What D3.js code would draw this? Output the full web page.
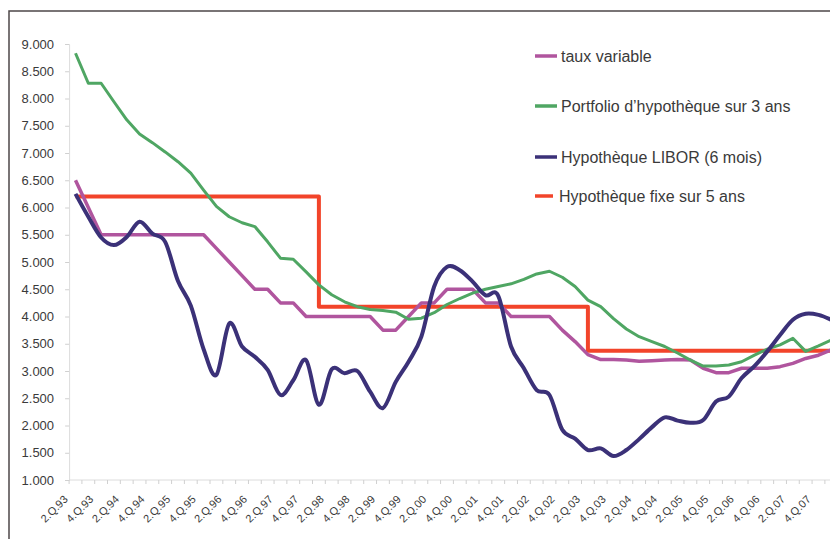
<!DOCTYPE html>
<html><head><meta charset="utf-8">
<script src="https://cdn.jsdelivr.net/npm/d3@7"></script>
<style>body{margin:0;background:#fff}svg{display:block}text{font-family:"Liberation Sans",Arial,sans-serif}</style>
</head><body><svg id="c" width="830" height="539"></svg>
<script>
const categories = ["2.Q.93","3.Q.93","4.Q.93","1.Q.94","2.Q.94","3.Q.94","4.Q.94","1.Q.95","2.Q.95","3.Q.95","4.Q.95","1.Q.96","2.Q.96","3.Q.96","4.Q.96","1.Q.97","2.Q.97","3.Q.97","4.Q.97","1.Q.98","2.Q.98","3.Q.98","4.Q.98","1.Q.99","2.Q.99","3.Q.99","4.Q.99","1.Q.00","2.Q.00","3.Q.00","4.Q.00","1.Q.01","2.Q.01","3.Q.01","4.Q.01","1.Q.02","2.Q.02","3.Q.02","4.Q.02","1.Q.03","2.Q.03","3.Q.03","4.Q.03","1.Q.04","2.Q.04","3.Q.04","4.Q.04","1.Q.05","2.Q.05","3.Q.05","4.Q.05","1.Q.06","2.Q.06","3.Q.06","4.Q.06","1.Q.07","2.Q.07","3.Q.07","4.Q.07","1.Q.08"];
const xTickLabels = ["2.Q.93","4.Q.93","2.Q.94","4.Q.94","2.Q.95","4.Q.95","2.Q.96","4.Q.96","2.Q.97","4.Q.97","2.Q.98","4.Q.98","2.Q.99","4.Q.99","2.Q.00","4.Q.00","2.Q.01","4.Q.01","2.Q.02","4.Q.02","2.Q.03","4.Q.03","2.Q.04","4.Q.04","2.Q.05","4.Q.05","2.Q.06","4.Q.06","2.Q.07","4.Q.07"];
const yTicks = [1,1.5,2,2.5,3,3.5,4,4.5,5,5.5,6,6.5,7,7.5,8,8.5,9];

const tauxVariable = [6.5,6.0,5.5,5.5,5.5,5.5,5.5,5.5,5.5,5.5,5.5,5.25,5.0,4.75,4.5,4.5,4.25,4.25,4.0,4.0,
  4.0,4.0,4.0,4.0,3.75,3.75,4.0,4.25,4.25,4.5,4.5,4.5,4.25,4.25,4.0,4.0,4.0,4.0,3.75,3.54,
  3.3,3.21,3.21,3.2,3.18,3.19,3.2,3.21,3.2,3.05,2.97,2.97,3.05,3.05,3.05,3.08,3.14,3.23,3.29,3.39];
const portfolio3ans = [8.83,8.28,8.28,7.94,7.61,7.35,7.19,7.02,6.84,6.63,6.32,6.02,5.83,5.72,5.65,5.37,5.07,5.05,4.82,4.58,
  4.40,4.27,4.18,4.13,4.11,4.08,3.95,3.97,4.07,4.22,4.33,4.43,4.50,4.55,4.60,4.68,4.78,4.83,4.72,4.55,
  4.30,4.18,3.96,3.77,3.63,3.54,3.45,3.33,3.20,3.09,3.09,3.11,3.17,3.29,3.40,3.48,3.60,3.36,3.46,3.57];
const libor6mois = [6.25,5.83,5.45,5.31,5.46,5.74,5.52,5.37,4.65,4.2,3.4,2.93,3.87,3.45,3.26,3.02,2.56,2.83,3.2,2.38,
  3.03,2.96,3.0,2.62,2.32,2.80,3.17,3.63,4.55,4.91,4.85,4.64,4.39,4.38,3.45,3.05,2.65,2.56,1.92,1.76,
  1.55,1.58,1.44,1.55,1.75,1.97,2.15,2.09,2.05,2.1,2.44,2.53,2.87,3.09,3.36,3.66,3.94,4.05,4.03,3.94];
const fixe5ans = [6.2,6.2,6.2,6.2,6.2,6.2,6.2,6.2,6.2,6.2,6.2,6.2,6.2,6.2,6.2,6.2,6.2,6.2,6.2,4.18,
  4.18,4.18,4.18,4.18,4.18,4.18,4.18,4.18,4.18,4.18,4.18,4.18,4.18,4.18,4.18,4.18,4.18,4.18,4.18,4.18,
  3.37,3.37,3.37,3.37,3.37,3.37,3.37,3.37,3.37,3.37,3.37,3.37,3.37,3.37,3.37,3.37,3.37,3.37,3.37,3.37];
const seriesNames = ["taux variable","Portfolio d\u2019hypoth\u00e8que sur 3 ans","Hypoth\u00e8que LIBOR (6 mois)","Hypoth\u00e8que fixe sur 5 ans"];
const seriesColors = ["#b0559e","#4fa663","#3b3178","#f2442a"];

const svg = d3.select("#c");
const left = 69.1, bw = 12.81;
const x = d3.scaleBand().domain(categories).range([left, left + bw*categories.length]).padding(0);
const y = d3.scaleLinear().domain([1,9]).range([480,44]);
const cx = c => x(c) + x.bandwidth()/2;

// frame
svg.append("path").attr("d","M9,539V11H830").attr("fill","none").attr("stroke","#4d4748").attr("stroke-width",1.5);

// y axis
const gy = svg.append("g").attr("transform",`translate(${left},0)`)
  .call(d3.axisLeft(y).tickValues(yTicks).tickFormat(d3.format(".3f")).tickSize(4).tickPadding(11));
gy.select(".domain").attr("stroke","#dcdcdc");
gy.selectAll(".tick line").attr("stroke","#d0d0d0");
gy.selectAll(".tick text").attr("font-size",13).attr("fill","#3a3a3a").attr("font-family","Liberation Sans, Arial, sans-serif");

// x axis
const gx = svg.append("g").attr("transform","translate(0,480)");
gx.append("line").attr("x1",left).attr("x2",left+bw*categories.length).attr("stroke","#dcdcdc");
gx.selectAll("line.t").data(categories.concat(["end"])).enter().append("line").attr("class","t")
  .attr("x1",(d,i)=>left+i*bw).attr("x2",(d,i)=>left+i*bw).attr("y1",0).attr("y2",4).attr("stroke","#d0d0d0");
gx.selectAll("text").data(xTickLabels).enter().append("text")
  .attr("transform",d=>`translate(${cx(d)-7},20) rotate(-45)`)
  .attr("text-anchor","end").attr("font-size",11).attr("fill","#3a3a3a").text(d=>d);

// lines
const data = [tauxVariable, portfolio3ans, libor6mois, fixe5ans];
const curves = [d3.curveLinear, d3.curveLinear, d3.curveCardinal.tension(0), d3.curveStepAfter];
const widths = [3.5, 3, 4, 4];
const order = [3,0,1,2];
order.forEach(k=>{
  const line = d3.line().x((d,i)=>cx(categories[i])).y(d=>y(d)).curve(curves[k]);
  svg.append("path").datum(data[k]).attr("d",line).attr("fill","none")
    .attr("stroke",seriesColors[k]).attr("stroke-width",widths[k]).attr("stroke-linejoin","round");
});

// legend
const legY = [56,106,157,196];
seriesNames.forEach((n,k)=>{
  const g = svg.append("g");
  g.append("line").attr("x1",535).attr("x2",k===3?553:557).attr("y1",legY[k]).attr("y2",legY[k])
    .attr("stroke",seriesColors[k]).attr("stroke-width",3.5);
  g.append("text").attr("x",k===3?559:561).attr("y",legY[k]).attr("dy","0.36em")
    .attr("font-size",16).attr("fill","#3a3a3a").text(n);
});
</script></body></html>
